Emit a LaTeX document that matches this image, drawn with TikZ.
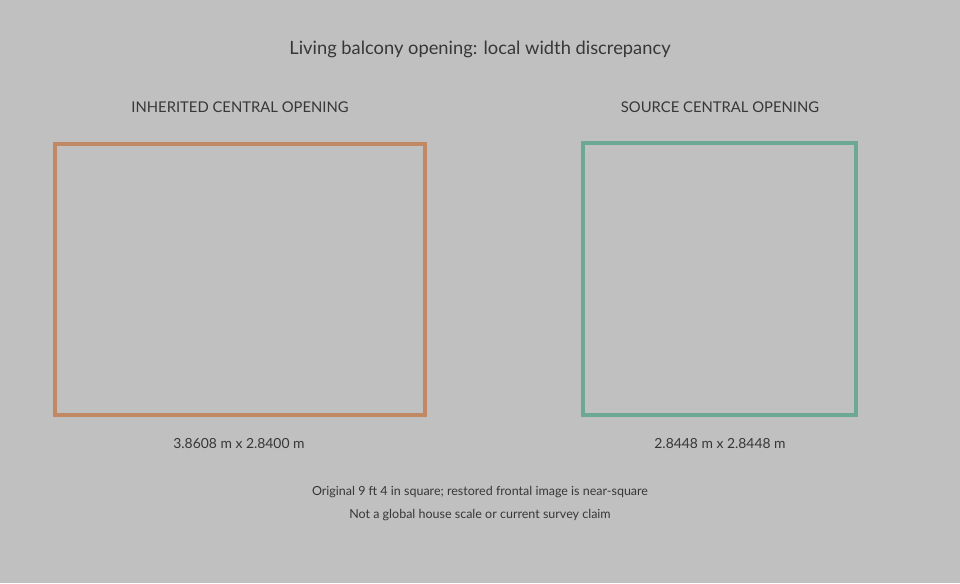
\documentclass[tikz,border=0pt]{standalone}
\usepackage{fontspec}
\setmainfont{Lato}
\begin{document}
\begin{tikzpicture}[x=1pt,y=-1pt,
  txt/.style={text=textgray, inner sep=0pt, anchor=center},
  title/.style={txt, font=\fontsize{18.3}{21}\selectfont},
  head/.style={txt, font=\fontsize{14.8}{17}\selectfont},
  dim/.style={txt, font=\fontsize{13.9}{16}\selectfont},
  note/.style={txt, font=\fontsize{12.5}{15}\selectfont},
  frame/.style={line width=3.2pt, line join=miter}]
\definecolor{bg}{RGB}{192,192,192}
\definecolor{textgray}{RGB}{55,55,55}
\definecolor{inhc}{RGB}{192,137,100}
\definecolor{srcc}{RGB}{108,168,146}
\fill[bg] (0,0) rectangle (960,583);
\useasboundingbox (0,0) rectangle (960,583);
\node[title] (t) at (480,49) {Living balcony opening: local width discrepancy};
\node[head] (h1) at (240,107) {INHERITED CENTRAL OPENING};
\node[head] (h2) at (720,107) {SOURCE CENTRAL OPENING};
\draw[frame, draw=inhc] (55,144) rectangle (425,415);
\draw[frame, draw=srcc] (583,143) rectangle (856,415);
\node[dim] (d1) at (239,444) {3.8608 m x 2.8400 m};
\node[dim] (d2) at (720,444) {2.8448 m x 2.8448 m};
\node[note] (n1) at (480,492) {Original 9 ft 4 in square; restored frontal image is near-square};
\node[note] (n2) at (480,515) {Not a global house scale or current survey claim};
\end{tikzpicture}
\end{document}
